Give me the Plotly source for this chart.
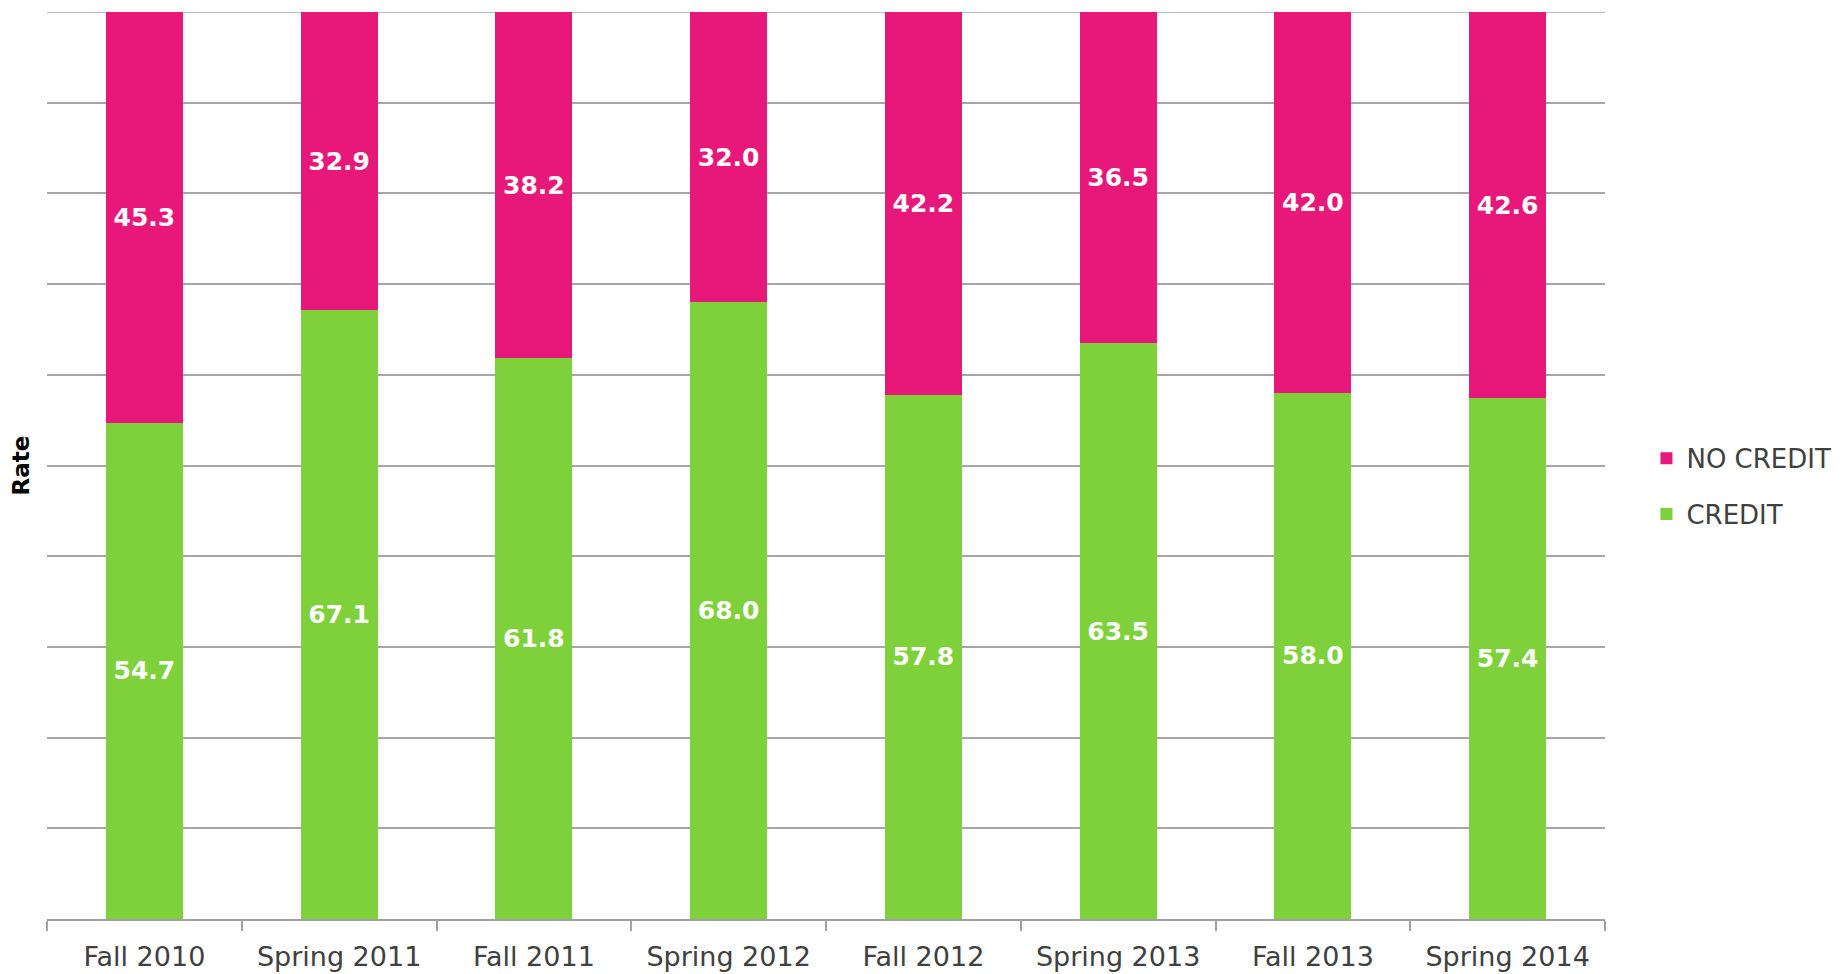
import plotly.graph_objects as go

categories = ["Fall 2010", "Spring 2011", "Fall 2011", "Spring 2012",
              "Fall 2012", "Spring 2013", "Fall 2013", "Spring 2014"]
credit = [54.7, 67.1, 61.8, 68.0, 57.8, 63.5, 58.0, 57.4]
no_credit = [45.3, 32.9, 38.2, 32.0, 42.2, 36.5, 42.0, 42.6]

GREEN = "#7ED13B"
PINK = "#E8177A"
FONT = "DejaVu Sans"

fig = go.Figure()
fig.add_trace(go.Bar(
    x=categories, y=credit, name="CREDIT", legendgroup="c", legendrank=2,
    marker=dict(color=GREEN, line=dict(width=0)),
    text=[f"{v:.1f}" for v in credit], textposition="inside",
    insidetextanchor="middle",
    textfont=dict(family=FONT, size=25, color="white", weight="bold"),
))
fig.add_trace(go.Bar(
    x=categories, y=no_credit, name="NO CREDIT", legendgroup="n", legendrank=1,
    marker=dict(color=PINK, line=dict(width=0)),
    text=[f"{v:.1f}" for v in no_credit], textposition="inside",
    insidetextanchor="middle",
    textfont=dict(family=FONT, size=25, color="white", weight="bold"),
))

fig.add_shape(type="line", xref="paper", yref="y", x0=0, x1=1, y0=100, y1=100,
              line=dict(color="#A6A6A6", width=1.5), layer="below")

fig.update_layout(
    barmode="stack",
    bargap=0.605,
    width=1843, height=974,
    margin=dict(l=39, r=246, t=4, b=63, autoexpand=False),
    paper_bgcolor="white", plot_bgcolor="white",
    font=dict(family=FONT, size=27, color="#404040"),
    uniformtext=dict(mode=False),
    legend=dict(
        x=1.0266, xanchor="left", y=0.477, yanchor="middle",
        font=dict(family=FONT, size=26, color="#404040"),
        traceorder="grouped", itemclick=False,
        tracegroupgap=19,
    ),
    xaxis=dict(
        showgrid=False, showline=True, linecolor="#A0A0A0", linewidth=1.5,
        ticks="outside", tickson="boundaries", ticklen=10, tickcolor="#A0A0A0",
        tickwidth=1.5, ticklabelstandoff=13,
        tickfont=dict(family=FONT, size=27, color="#404040"),
        automargin=False,
    ),
    yaxis=dict(
        range=[0, 100], tickvals=list(range(10, 101, 10)), showticklabels=False,
        showgrid=True, gridcolor="#A6A6A6", gridwidth=1.5,
        zeroline=False, showline=False, ticks="",
        title=dict(text="Rate", standoff=12,
                   font=dict(family=FONT, size=23, color="black", weight="bold")),
        automargin=False,
    ),
)

fig.write_html("out.html")
